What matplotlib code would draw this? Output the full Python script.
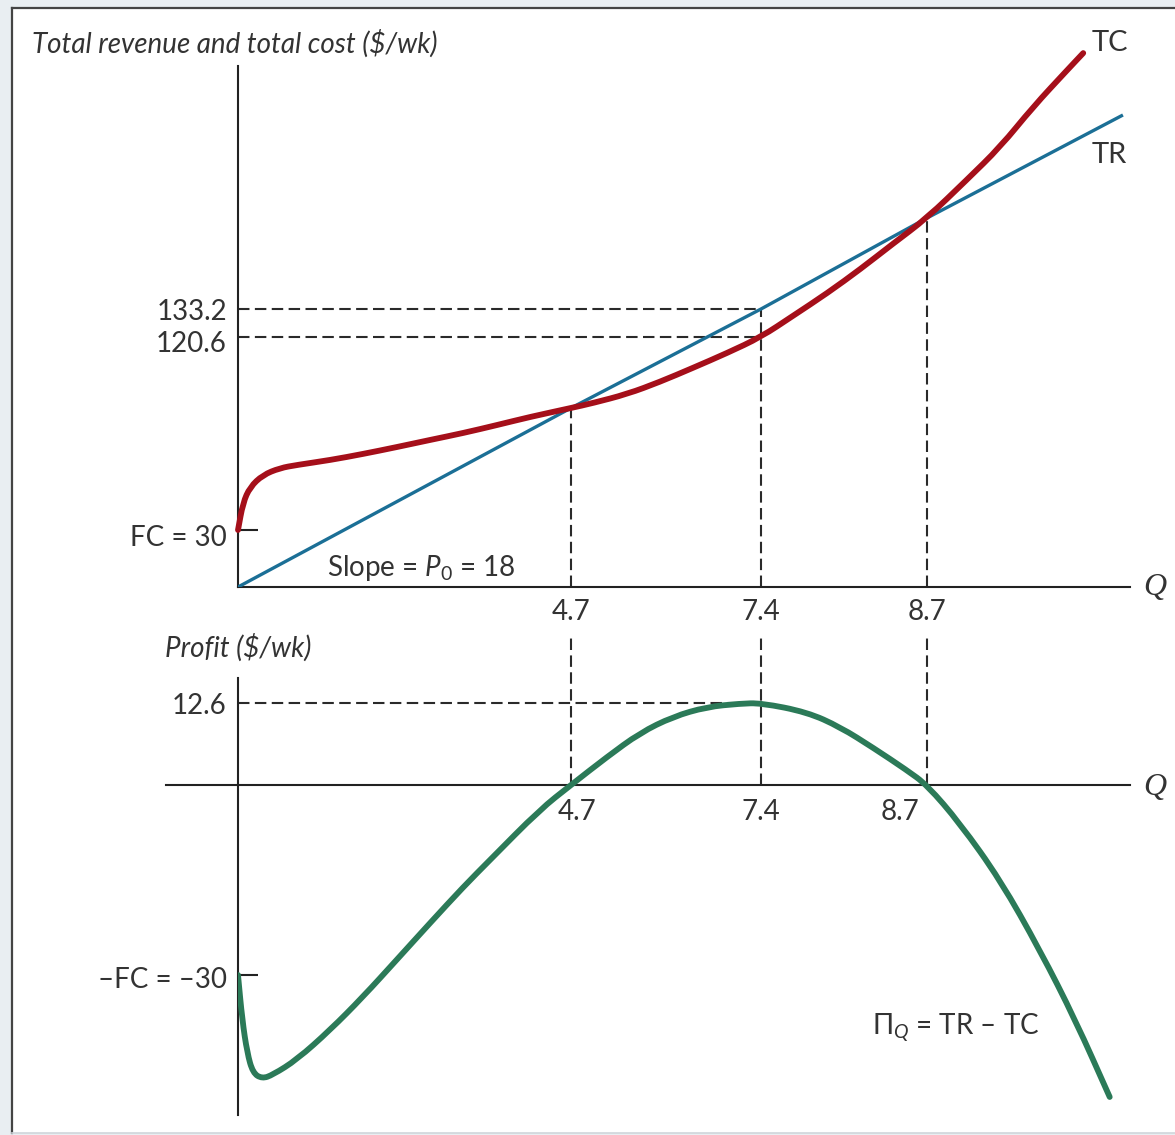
import matplotlib as mpl
import matplotlib.pyplot as plt
from matplotlib.lines import Line2D
from matplotlib.patches import Rectangle, PathPatch
from matplotlib.path import Path
from matplotlib.transforms import ScaledTranslation
import numpy as np

W, H, DPI = 1175, 1135, 100

# values (Q units, $/wk)
q_marks = [4.7, 7.4, 8.7]
q_labels = ["4.7", "7.4", "8.7"]
fc = 30
tr_at_marks = [84.6, 133.2, 156.6]
tc_at_74 = 120.6
profit_max = 12.6

tr_q = [0, 4.7, 7.4, 8.7, 10.92]
tr_val = [0, 84.6, 133.2, 156.6, 196.6]

tc_q = [0, 0.07, 0.17, 0.35, 0.59, 0.83, 1.30, 1.76, 2.24, 2.71, 3.18, 3.66, 4.12,
        4.7, 5.01, 5.50, 5.96, 6.43, 6.92, 7.4, 7.65, 7.92, 8.18, 8.43, 8.7,
        9.15, 9.53, 9.90, 10.29, 10.47]
tc_val = [30, 42.1, 49.2, 54.6, 57.7, 59.1, 61.3, 64.0, 67.1, 70.3, 73.4, 77.0, 80.6,
          84.6, 87.1, 91.7, 97.8, 104.9, 112.5, 120.6, 130.1, 137.3, 143.5, 149.9, 156.6,
          171.4, 184.2, 199.6, 213.7, 220.1]

profit_q = [0, 0.06, 0.13, 0.21, 0.34, 0.49, 0.83, 1.30, 1.76, 2.24, 2.71, 3.18, 3.56,
            4.26, 4.7, 5.21, 5.68, 6.15, 6.63, 7.10, 7.4, 7.76, 8.02, 8.28, 8.54, 8.7,
            9.07, 9.53, 9.98, 10.38, 10.77]
profit_val = [-30, -37.1, -42.3, -45.5, -46.4, -45.8, -43.4, -38.7, -33.5, -27.6, -21.8,
              -16.1, -11.8, -3.9, 0, 4.3, 8.0, 10.5, 12.0, 12.5, 12.6, 11.2, 8.9, 5.7,
              2.3, 0, -6.0, -15.0, -26.1, -37.1, -49.3]

# the drawing is not to scale -> piecewise scales (value -> pixel offset)
x_knots, x_px = [0, 4.7, 7.4, 8.7, 11.0], [0, 333, 523, 689, 892]
top_knots = [0, 30, 84.6, 120.6, 133.2, 156.6, 196.6, 230]
top_px = [0, 57, 179, 250, 278, 369, 472, 560]
low_knots, low_px = [-55, -30, 0, 12.6, 30], [-348, -190, 0, 82, 195]

TXT = "#333333"
RED, BLUE, GREEN = "#a50f1a", "#1b6f96", "#2b7a58"
AX = "#222222"
PX = 72 / DPI  # points per pixel
FS = 20

plt.rcParams["font.family"] = ["Lato", "DejaVu Sans"]
plt.rcParams["mathtext.fontset"] = "custom"
plt.rcParams["mathtext.rm"] = "Lato"
plt.rcParams["mathtext.it"] = "Lato:italic"


def knot_scale(vals, px):
    return (lambda v: np.interp(v, vals, px), lambda p: np.interp(p, px, vals))


def fig_rect(x0, y0, x1, y1):
    return [x0 / W, 1 - y1 / H, (x1 - x0) / W, (y1 - y0) / H]


def fig_text(x, y, s, **kw):
    kw.setdefault("color", TXT)
    kw.setdefault("size", FS)
    kw.setdefault("va", "center")
    fig.text(x / W, 1 - y / H, s, **kw)


def nudge(label, dy_px):
    label.set_transform(label.get_transform()
                        + ScaledTranslation(0, -dy_px / DPI, fig.dpi_scale_trans))


def smooth_curve(ax, xs, ys, xsc, ysc, **kw):
    # quadratic bezier through the midpoints, midpoints taken in drawn (pixel) space
    (xf, xi), (yf, yi) = xsc, ysc
    px = np.column_stack([xf(np.asarray(xs)), yf(np.asarray(ys))])
    mid = (px[:-1] + px[1:]) / 2
    mid = np.column_stack([xi(mid[:, 0]), yi(mid[:, 1])])
    pts = np.column_stack([xs, ys])
    verts = [pts[0], mid[0]]
    codes = [Path.MOVETO, Path.LINETO]
    for p, m in zip(pts[1:-1], mid[1:]):
        verts += [p, m]
        codes += [Path.CURVE3, Path.CURVE3]
    verts.append(pts[-1])
    codes.append(Path.LINETO)
    ax.add_patch(PathPatch(Path(verts, codes), fill=False, capstyle="round",
                           joinstyle="round", **kw))


fig = plt.figure(figsize=(W / DPI, H / DPI), dpi=DPI, facecolor="#e9eef2")

# page frame
fig.add_artist(Rectangle((12 / W, 1 - 1133 / H), 1, (1133 - 8) / H,
                         transform=fig.transFigure, facecolor="white", edgecolor="none", zorder=0))
fig.add_artist(Line2D([12 / W, 1], [1 - 8 / H] * 2, color="#444444", lw=1.6))
fig.add_artist(Line2D([12 / W] * 2, [1 - 8 / H, 1 - 1133 / H], color="#444444", lw=1.6))
fig.add_artist(Line2D([12 / W, 1], [1 - 1133 / H] * 2, color="#d0d6db", lw=1.2))

xsc = knot_scale(x_knots, x_px)
xf, xi = xsc
dash = dict(color="#2a2a2a", lw=1.5, ls=(0, (5.5, 2.6)), zorder=1)

# ---------- top panel ----------
ax = fig.add_axes(fig_rect(238, 66, 1130, 587))
tsc = knot_scale(top_knots, top_px)
tf, ti = tsc
ax.set_xscale("function", functions=xsc)
ax.set_yscale("function", functions=tsc)
ax.set_xlim(0, xi(892))
ax.set_ylim(0, ti(521))
ax.patch.set_visible(False)
for s in ["top", "right"]:
    ax.spines[s].set_visible(False)
for s in ["left", "bottom"]:
    ax.spines[s].set_color(AX)
    ax.spines[s].set_linewidth(1.5)

ax.hlines([tr_at_marks[1], tc_at_74], 0, q_marks[1], **dash)
ax.vlines(q_marks, 0, tr_at_marks, **dash)
ax.plot(tr_q, tr_val, color=BLUE, lw=2.4, zorder=3, solid_capstyle="butt")
smooth_curve(ax, tc_q, tc_val, xsc, tsc, edgecolor=RED, lw=4.2, zorder=4, clip_on=False)

ax.set_yticks([fc], ["FC = 30"])
ax.set_yticks([tc_at_74, tr_at_marks[1]], ["120.6", "133.2"], minor=True)
ax.tick_params(axis="y", which="major", direction="in", length=20 * PX, width=1.5,
               color=AX, pad=8, labelsize=FS, labelcolor=TXT)
ax.tick_params(axis="y", which="minor", length=0, pad=8, labelsize=FS, labelcolor=TXT)
ax.set_xticks(q_marks, q_labels)
ax.tick_params(axis="x", length=0, pad=9, labelsize=FS, labelcolor=TXT)
nudge(ax.get_yticklabels()[0], 6)
nudge(ax.get_yticklabels(minor=True)[0], 4)
nudge(ax.get_yticklabels(minor=True)[1], 1)

# ---------- bottom panel ----------
bx = fig.add_axes(fig_rect(238, 630, 1130, 1115))
lsc = knot_scale(low_knots, low_px)
lf, li = lsc
bx.set_xscale("function", functions=xsc)
bx.set_yscale("function", functions=lsc)
bx.set_xlim(0, xi(892))
bx.set_ylim(li(-330), li(155))
bx.patch.set_visible(False)
for s in ["top", "right", "bottom"]:
    bx.spines[s].set_visible(False)
bx.spines["left"].set_color(AX)
bx.spines["left"].set_linewidth(1.5)
bx.spines["left"].set_bounds(li(-330), li(107))
bx.axhline(0, xmin=-72 / 892, xmax=1, color=AX, lw=1.5, clip_on=False)

bx.vlines(q_marks, 0, li(148), **dash)
bx.hlines(profit_max, 0, q_marks[1], **dash)
smooth_curve(bx, profit_q, profit_val, xsc, lsc, edgecolor=GREEN, lw=4.2, zorder=4)

bx.set_xticks([])
bx.set_yticks([-fc], ["\u2013FC = \u201330"])
bx.set_yticks([profit_max], ["12.6"], minor=True)
bx.tick_params(axis="y", which="major", direction="in", length=20 * PX, width=1.5,
               color=AX, pad=8, labelsize=FS, labelcolor=TXT)
bx.tick_params(axis="y", which="minor", length=0, pad=8, labelsize=FS, labelcolor=TXT)
nudge(bx.get_yticklabels()[0], 2)
nudge(bx.get_yticklabels(minor=True)[0], 1)
for q, lab, dx in zip(q_marks, q_labels, [6, 0, -27]):
    bx.annotate(lab, (q, 0), xytext=(dx * PX, -27 * PX), textcoords="offset points",
                ha="center", va="center", size=FS, color=TXT)

# ---------- labels ----------
fig_text(32, 44, "Total revenue and total cost ($/wk)", style="italic")
fig_text(165, 648, "Profit ($/wk)", style="italic")
fig_text(327, 568, r"Slope = $P_0$ = 18")
fig_text(1092, 43, "TC", size=21)
fig_text(1092, 155, "TR", size=21)
fig_text(872, 1028, "$\\Pi_Q$ = TR \u2013 TC")
for y in [588, 787]:
    fig_text(1155, y, "Q", family="Liberation Serif", style="italic", ha="center", size=23)

fig.savefig("out.png", dpi=DPI, facecolor=fig.get_facecolor())
